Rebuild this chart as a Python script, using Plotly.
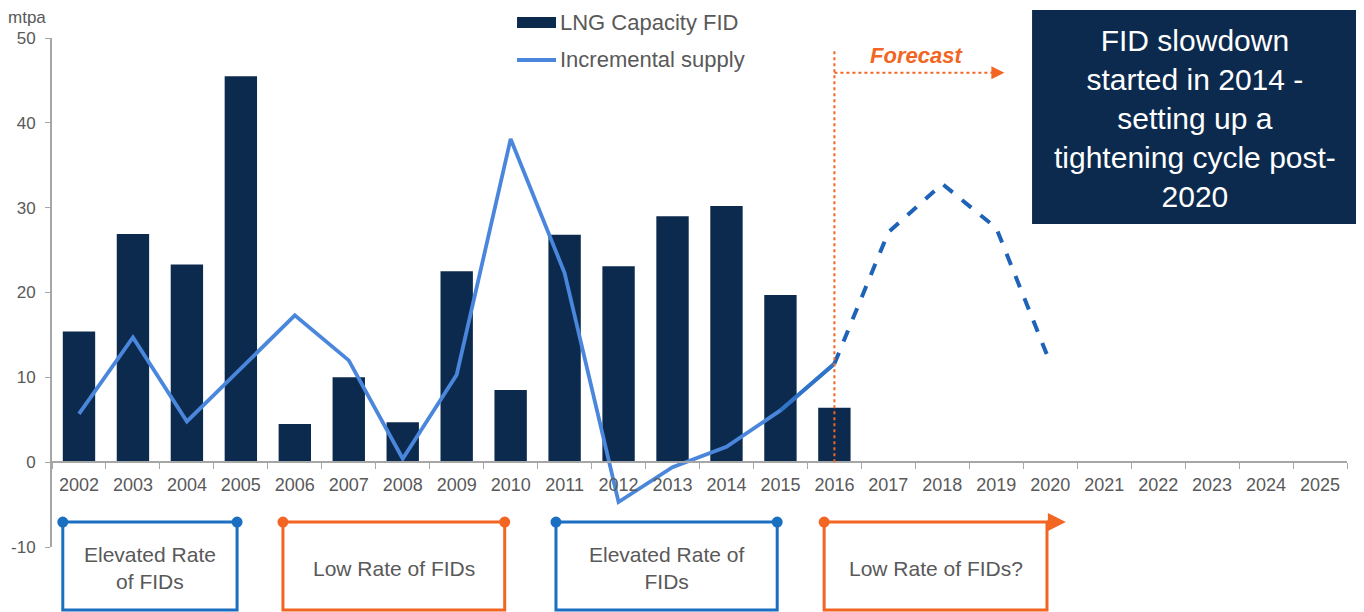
import plotly.graph_objects as go

years = [str(y) for y in range(2002, 2026)]
bar_years = [str(y) for y in range(2002, 2017)]
lng_capacity_fid = [15.4, 26.9, 23.3, 45.5, 4.5, 10.0, 4.7, 22.5, 8.5, 26.8, 23.1, 29.0, 30.2, 19.7, 6.4]
line_years = [str(y) for y in range(2002, 2017)]
incremental_supply = [5.7, 14.7, 4.8, 11.1, 17.3, 12.0, 0.4, 10.3, 38.1, 22.3, -4.7, -0.6, 1.8, 6.1, 11.6]
forecast_years = ["2016", "2017", "2018", "2019", "2020"]
forecast_supply = [11.6, 27.1, 32.8, 27.6, 11.7]
y_ticks = [-10, 0, 10, 20, 30, 40, 50]
y_tick_text = ["-10", "0", "10", "20", "30", "40", "50"]

NAVY = "#0c2a4e"
LBLUE = "#4a87dc"
DBLUE = "#1f63b8"
ORANGE = "#f26522"
BOXBLUE = "#1a6fc0"
GRAY = "#595959"
AXIS = "#a6a6a6"
FONT = "Liberation Sans, Arial, sans-serif"

fig = go.Figure()
fig.add_trace(go.Bar(x=bar_years, y=lng_capacity_fid, name="LNG Capacity FID",
                     marker=dict(color=NAVY, line=dict(width=0)), width=0.6,
                     showlegend=False))
fig.add_trace(go.Scatter(x=line_years, y=incremental_supply, name="Incremental supply",
                         mode="lines", line=dict(color=LBLUE, width=3.8),
                         showlegend=False))
fig.add_trace(go.Scatter(x=line_years[-2:], y=incremental_supply[-2:], mode="lines",
                         line=dict(color="#2f74c8", width=3.8), showlegend=False))
fig.add_trace(go.Scatter(x=forecast_years, y=forecast_supply, mode="lines",
                         line=dict(color=DBLUE, width=4, dash="dash"), showlegend=False))

shapes = []
annotations = []

# Manual legend
shapes.append(dict(type="rect", xref="paper", yref="paper", x0=0.3591, x1=0.3892,
                   y0=1.0196, y1=1.0413, fillcolor=NAVY, line=dict(width=0)))
shapes.append(dict(type="line", xref="paper", yref="paper", x0=0.3591, x1=0.3892,
                   y0=0.9568, y1=0.9568, line=dict(color=LBLUE, width=4)))
annotations.append(dict(x=0.3907, y=1.0314, xref="paper", yref="paper", xanchor="left",
                        yanchor="middle", text="LNG Capacity FID", showarrow=False,
                        font=dict(size=22, color=GRAY, family=FONT)))
annotations.append(dict(x=0.3907, y=0.9568, xref="paper", yref="paper", xanchor="left",
                        yanchor="middle", text="Incremental supply", showarrow=False,
                        font=dict(size=22, color=GRAY, family=FONT)))

# Forecast markers
shapes.append(dict(type="line", xref="x", yref="y", x0=14, x1=14, y0=0, y1=48.8,
                   line=dict(color=ORANGE, width=2, dash="dot")))
shapes.append(dict(type="line", xref="x", yref="y", x0=14, x1=16.95, y0=45.9, y1=45.9,
                   line=dict(color=ORANGE, width=2, dash="dot")))
annotations.append(dict(x=17.15, y=45.9, xref="x", yref="y", ax=-14, ay=0, text="",
                        showarrow=True, arrowhead=2, arrowsize=1.3, arrowwidth=2,
                        arrowcolor=ORANGE))
annotations.append(dict(x=15.53, y=47.9, xref="x", yref="y", text="<i><b>Forecast</b></i>",
                        xanchor="center", yanchor="middle",
                        showarrow=False, font=dict(size=22, color=ORANGE, family=FONT)))

# Navy text box
shapes.append(dict(type="rect", xref="paper", yref="paper", x0=0.7568, x1=1.02,
                   y0=0.6346, y1=1.055, fillcolor=NAVY, line=dict(width=0)))
annotations.append(dict(x=0.883, y=0.841, xref="paper", yref="paper", xanchor="center",
                        yanchor="middle",
                        text="FID slowdown<br>started in 2014 -<br>setting up a<br>tightening cycle post-<br>2020",
                        showarrow=False, font=dict(size=30, color="white", family=FONT)))

# mtpa label
annotations.append(dict(x=-0.0193, y=1.04, xref="paper", yref="paper", text="mtpa",
                        xanchor="center", yanchor="middle",
                        showarrow=False, font=dict(size=17, color=GRAY, family=FONT)))

# Bottom period boxes
box_top, box_bot = 0.049, -0.124
boxes = [
    (-0.3, 2.93, BOXBLUE, "Elevated Rate<br>of FIDs", True),
    (3.78, 7.89, ORANGE, "Low Rate of FIDs", True),
    (8.84, 12.94, BOXBLUE, "Elevated Rate of<br>FIDs", True),
    (13.81, 17.94, ORANGE, "Low Rate of FIDs?", False),
]
for x0, x1, col, txt, right_dot in boxes:
    shapes.append(dict(type="rect", xref="x", yref="paper", x0=x0, x1=x1, y0=box_bot, y1=box_top,
                       line=dict(color=col, width=3), fillcolor="rgba(0,0,0,0)"))
    dots = [x0, x1] if right_dot else [x0]
    for dx in dots:
        shapes.append(dict(type="circle", xref="x", yref="paper", xsizemode="pixel",
                           ysizemode="pixel", xanchor=dx, yanchor=box_top,
                           x0=-5.5, x1=5.5, y0=-5.5, y1=5.5, fillcolor=col,
                           line=dict(color=col, width=0)))
    annotations.append(dict(x=(x0 + x1) / 2, y=-0.042, xref="x", yref="paper",
                            xanchor="center", yanchor="middle",
                            text=txt, showarrow=False,
                            font=dict(size=21, color=GRAY, family=FONT)))

# arrow extension on last box
shapes.append(dict(type="line", xref="x", yref="paper", x0=17.94, x1=18.1, y0=box_top, y1=box_top,
                   line=dict(color=ORANGE, width=3)))
annotations.append(dict(x=18.29, y=box_top, xref="x", yref="paper", ax=-12, ay=0, text="",
                        showarrow=True, arrowhead=2, arrowsize=1.2, arrowwidth=3,
                        arrowcolor=ORANGE))

# The page body has an 8px default margin; size the figure to compensate.
fig.update_layout(
    width=1356, height=604,
    margin=dict(l=44, r=17, t=30, b=65),
    paper_bgcolor="white", plot_bgcolor="white",
    font=dict(family=FONT, color=GRAY),
    showlegend=False,
    shapes=shapes, annotations=annotations,
    bargap=0.4,
)
fig.update_xaxes(type="category", categoryorder="array", categoryarray=years,
                 range=[-0.5, 23.5], anchor="free", position=1/6, automargin=False,
                 tickson="boundaries", ticks="outside", ticklen=6, tickcolor=AXIS,
                 showline=True, linecolor=AXIS, linewidth=2, showgrid=False,
                 ticklabelstandoff=6,
                 tickfont=dict(size=18, color=GRAY, family=FONT))
fig.update_yaxes(range=[-10, 50], tickvals=y_ticks, ticktext=y_tick_text, automargin=False,
                 ticks="outside", ticklen=5, tickcolor=AXIS, showline=True,
                 linecolor=AXIS, linewidth=2, showgrid=False, zeroline=False,
                 ticklabelstandoff=6,
                 tickfont=dict(size=17, color=GRAY, family=FONT))

fig.write_html("out.html")
